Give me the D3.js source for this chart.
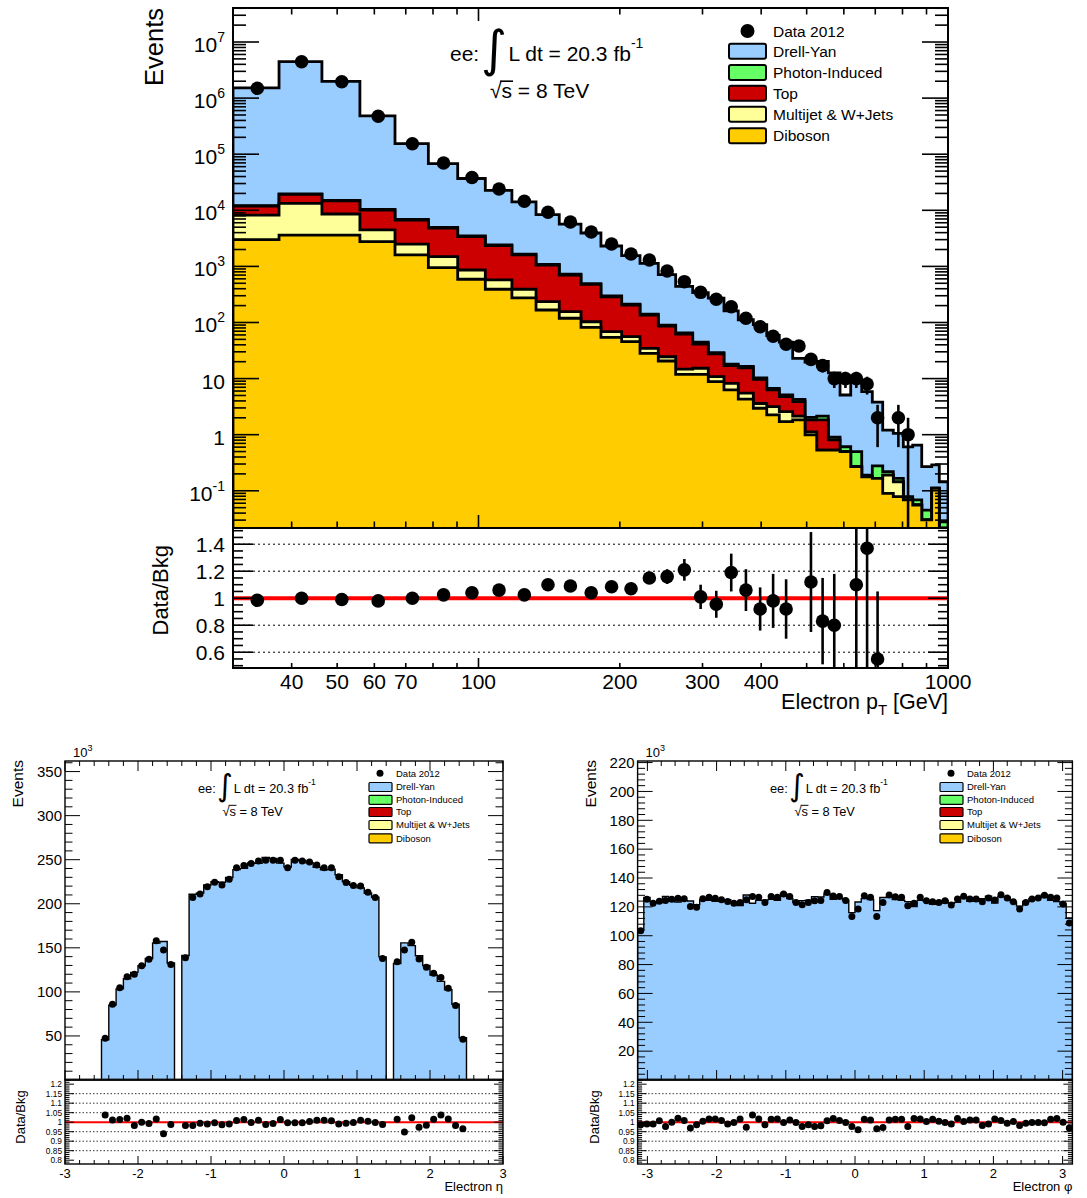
<!DOCTYPE html>
<html><head><meta charset="utf-8">
<script src="https://cdn.jsdelivr.net/npm/d3@7"></script>
<style>
body{margin:0;background:#fff}
text{font-family:"Liberation Sans",Arial,Helvetica,sans-serif;fill:#000}
</style></head>
<body><svg id="chart" width="1087" height="1198"></svg>
<script>
// ================= DATA : Electron pT (top) =================
const ptBinEdges = [30, 37.6, 46.4, 55.9, 66.4, 78.2, 90.3, 103.4, 117.8, 132.6, 148.6, 165.3, 182.3, 201.8, 220.8, 241.5, 263, 285.9, 308.6, 333.3, 357.5, 384.9, 411.1, 437.2, 466.9, 496, 525.3, 556, 588.9, 620.6, 655, 689.9, 726, 764.7, 803.2, 841.1, 879.1, 923.2, 958.2, 1000];
const ptDrellYan = [1506000, 4440000, 1965000, 473600, 147100, 63050, 33400, 20180, 12500, 7280, 4945, 3445, 2012, 1338, 989, 624, 376, 297.6, 242, 142.5, 95.5, 81.2, 51.9, 39.4, 18.7, 17.7, 18.05, 11.7, 4.49, 8.7, 5.65, 3.52, 0.99, 0.893, 0.53, 0.58, 0.224, 0.177, 0.117];
const ptPhotonInduced = [200, 300, 300, 300, 200, 150, 100, 80, 50, 31, 22, 15, 10, 7, 5, 3.3, 2.6, 3.0, 1.5, 1.0, 0.9, 0.6, 0.44, 0.35, 0.4, 0.21, 0.32, 0.09, 0.11, 0.23, 0.012, 0.11, 0.03, 0.022, 0.01, 0.013, 0.015, 0.003, 0.0065];
const ptTop = [3700, 6000, 6100, 5640, 4200, 3310, 2540, 1770, 1210, 824, 547, 377, 219, 149, 101, 62, 47.6, 26.1, 16.7, 8.8, 10.1, 6.1, 3.1, 2.18, 1.72, 0.71, 1.3, 0.28, 0, 0, 0, 0, 0, 0, 0, 0, 0, 0, 0];
const ptMultijet = [5200, 9700, 5000, 1700, 900, 540, 273, 182, 117, 68, 37, 21, 14.1, 10.3, 6.5, 3.9, 2.9, 3.4, 2.0, 1.9, 1.2, 0.64, 0.92, 0.86, 0.32, 0.13, 0, 0, 0, 0, 0, 0, 0.1, 0.066, 0, 0, 0, 0, 0];
const ptDiboson = [3000, 3600, 3600, 2760, 1600, 950, 590, 391, 274, 167, 119, 82, 54.5, 45.5, 28.2, 20.6, 11.9, 11.9, 8.8, 6.3, 4.3, 2.96, 2.25, 1.71, 1.83, 0.99, 0.53, 0.53, 0.5, 0.27, 0.178, 0.167, 0.09, 0.0785, 0.0686, 0.0558, 0.0302, 0.11, 0.0215];
const ptData = [1495000, 4460000, 1960000, 474000, 154000, 69700, 38400, 24000, 14500, 9210, 6180, 4100, 2510, 1660, 1300, 828, 534, 345, 259, 191, 119, 84, 57, 41, 38, 22, 17, 10, 10, 10, 8, 2, null, 2, 1, null, null, null, null];
const ptDataErr = [1223, 2112, 1400, 688, 392, 264, 196, 155, 120, 96, 79, 64, 50, 41, 36, 29, 23, 18.6, 16.1, 13.8, 10.9, 9.2, 7.5, 6.4, 6.2, 4.7, 4.1, 3.2, 3.2, 3.2, 2.8, 1.4, null, 1.4, 1.0, null, null, null, null];
const ptRatio = [0.985, 1.0, 0.99, 0.98, 1.0, 1.025, 1.04, 1.06, 1.025, 1.1, 1.09, 1.04, 1.085, 1.07, 1.15, 1.16, 1.21, 1.01, 0.955, 1.19, 1.06, 0.92, 0.98, 0.92, null, 1.12, 0.83, 0.80, null, 1.10, 1.37, 0.55, null, null, null, null, null, null, null];
const ptRatioErr = [0.004, 0.003, 0.004, 0.005, 0.006, 0.008, 0.009, 0.011, 0.013, 0.016, 0.018, 0.022, 0.028, 0.033, 0.045, 0.055, 0.08, 0.09, 0.1, 0.14, 0.155, 0.16, 0.2, 0.22, null, 0.37, 0.32, 0.38, null, 0.65, 0.9, 0.5, null, null, null, null, null, null, null];
const ptXTickLabels = [40, 50, 60, 70, 100, 200, 300, 400, 1000];
const ptYTickExponents = [-1, 0, 1, 2, 3, 4, 5, 6, 7];
const ptRatioTickLabels = [0.6, 0.8, 1, 1.2, 1.4];
const ptRatioGrid = [0.6, 0.8, 1.2, 1.4];

// ================= DATA : Electron eta (bottom left), units of 10^3 events =================
const etaBinning = {n: 50, min: -2.5, max: 2.5};
const etaDrellYan = [45.6, 85.0, 103.4, 114.9, 122.1, 129.7, 137.9, 155.5, 157.1, 132.8, 0, 141.2, 210.8, 212.1, 221.3, 225.0, 224.4, 229.8, 238.7, 240.1, 246.3, 245.9, 252.5, 251.3, 246.1, 241.6, 250.3, 249.1, 246.6, 241.5, 238.5, 239.2, 233.0, 225.1, 221.0, 218.0, 211.9, 207.4, 139.7, 0, 132.2, 155.6, 152.5, 141.0, 130.0, 119.2, 111.9, 102.4, 86.0, 48.0];
const etaData = [47.3, 86.0, 104.8, 117.3, 120.0, 129.7, 136.9, 158.1, 147.5, 131.2, null, 138.8, 207.2, 211.0, 219.3, 224.3, 221.3, 227.7, 240.9, 243.5, 245.8, 248.4, 249.5, 249.5, 249.5, 240.9, 249.5, 248.4, 247.3, 243.9, 240.9, 240.9, 230.7, 224.0, 220.6, 220.2, 213.0, 207.0, 138.0, null, 134.3, 147.5, 156.2, 137.3, 127.9, 121.1, 116.2, 104.1, 84.5, 46.3];
const etaRatio = [1.038, 1.012, 1.014, 1.021, 0.983, 1.0, 0.993, 1.017, 0.939, 0.988, null, 0.983, 0.983, 0.995, 0.991, 0.997, 0.986, 0.991, 1.009, 1.014, 0.998, 1.01, 0.988, 0.993, 1.014, 0.997, 0.997, 0.997, 1.003, 1.01, 1.01, 1.007, 0.99, 0.995, 0.998, 1.01, 1.005, 0.998, 0.988, null, 1.016, 0.948, 1.024, 0.974, 0.984, 1.016, 1.038, 1.017, 0.983, 0.965];
const etaYTickLabels = [50, 100, 150, 200, 250, 300, 350];
const etaXTickLabels = [-3, -2, -1, 0, 1, 2, 3];

// ================= DATA : Electron phi (bottom right), units of 10^3 events =================
const phiBinning = {n: 70, min: -Math.PI, max: Math.PI};
const phiDrellYan = [104.9, 126.5, 123.6, 123.0, 127.3, 125.3, 123.4, 124.5, 124.1, 121.5, 125.0, 124.6, 123.9, 123.8, 124.9, 122.7, 120.9, 128.2, 122.5, 124.6, 124.7, 125.2, 124.6, 129.3, 125.7, 123.2, 124.3, 124.7, 127.1, 126.8, 129.0, 125.2, 126.1, 124.6, 116.0, 123.4, 125.7, 125.1, 117.4, 126.5, 126.7, 125.0, 124.6, 123.6, 120.2, 124.5, 123.9, 121.7, 122.5, 124.5, 122.5, 123.1, 126.9, 123.9, 123.9, 125.7, 127.4, 122.6, 127.3, 126.7, 123.2, 120.5, 123.7, 125.7, 126.4, 128.4, 124.6, 123.7, 122.0, 112.3];
const phiData = [103.4, 125.2, 122.5, 123.9, 124.4, 125.3, 126.0, 125.6, 120.3, 119.8, 125.6, 126.7, 126.0, 124.9, 123.7, 122.5, 123.0, 124.9, 127.2, 126.7, 123.0, 127.2, 126.7, 129.0, 127.2, 123.0, 121.4, 123.0, 124.2, 124.4, 129.9, 127.6, 127.2, 124.4, 113.3, 118.5, 127.7, 126.6, 113.3, 123.0, 128.2, 127.0, 126.6, 120.8, 122.5, 126.6, 124.3, 123.6, 123.1, 124.3, 121.3, 125.4, 127.3, 125.4, 125.4, 123.6, 126.1, 124.7, 128.4, 126.1, 123.6, 118.5, 123.1, 125.4, 126.1, 128.0, 126.6, 126.1, 122.0, 108.8];
const phiRatio = [0.986, 0.99, 0.991, 1.007, 0.977, 1.0, 1.021, 1.009, 0.969, 0.986, 1.005, 1.017, 1.017, 1.009, 0.99, 0.998, 1.017, 0.974, 1.038, 1.017, 0.986, 1.016, 1.017, 0.998, 1.012, 0.998, 0.977, 0.986, 0.977, 0.981, 1.007, 1.019, 1.009, 0.998, 0.977, 0.96, 1.016, 1.012, 0.965, 0.972, 1.012, 1.016, 1.016, 0.977, 1.019, 1.017, 1.003, 1.016, 1.005, 0.998, 0.99, 1.019, 1.003, 1.012, 1.012, 0.983, 0.99, 1.017, 1.009, 0.995, 1.003, 0.983, 0.995, 0.998, 0.998, 0.997, 1.016, 1.019, 1.0, 0.969];
const phiYTickLabels = [20, 40, 60, 80, 100, 120, 140, 160, 180, 200, 220];
const phiXTickLabels = [-3, -2, -1, 0, 1, 2, 3];

const smallRatioTickLabels = [0.8, 0.85, 0.9, 0.95, 1, 1.05, 1.1, 1.15, 1.2];
const smallRatioGrid = [0.85, 0.9, 0.95, 1.05, 1.1, 1.15];

const legendLabels = ['Drell-Yan', 'Photon-Induced', 'Top', 'Multijet & W+Jets', 'Diboson'];
const legendKeys = ['dy', 'photon', 'top', 'multijet', 'diboson'];
const COLORS = {dy: '#99CCFF', photon: '#66FF66', top: '#CC0000', multijet: '#FFFF99', diboson: '#FFCC00'};

// ================= HELPERS =================
const svg = d3.select('#chart');
svg.append('rect').attr('width', 1087).attr('height', 1198).attr('fill', '#fff');
const defs = svg.append('defs');
let clipN = 0;
function addClip(x0, y0, x1, y1) {
  const id = 'clp' + (clipN++);
  defs.append('clipPath').attr('id', id).append('rect')
    .attr('x', x0).attr('y', y0).attr('width', x1 - x0).attr('height', y1 - y0);
  return 'url(#' + id + ')';
}
function stepPath(xs, ys, base) {
  let p = 'M' + xs[0] + ',' + base;
  for (let i = 0; i < ys.length; i++) p += 'L' + xs[i] + ',' + ys[i] + 'L' + xs[i + 1] + ',' + ys[i];
  p += 'L' + xs[xs.length - 1] + ',' + base + 'Z';
  return p;
}
function drawStack(g, x, y, edges, comps, lw) {
  const keys = ['diboson', 'multijet', 'top', 'photon', 'dy'];
  const n = edges.length - 1;
  const rows = d3.range(n).map(i => { const r = {}; keys.forEach(k => r[k] = comps[k] ? (comps[k][i] || 0) : 0); return r; });
  const stacked = d3.stack().keys(keys)(rows);
  const base = y.range()[0] + 10;
  const xs = edges.map(e => x(e));
  const pix = v => (v > 0 ? Math.min(y(v), base) : base);
  for (let li = keys.length - 1; li >= 0; li--) {
    if (!comps[keys[li]]) continue;
    const ys = stacked[li].map(d => pix(d[1]));
    g.append('path').attr('d', stepPath(xs, ys, base))
      .attr('fill', COLORS[keys[li]]).attr('stroke', '#000').attr('stroke-width', lw).attr('stroke-linejoin', 'miter');
  }
}
function drawPoints(g, x, y, centers, vals, errs, r, lw) {
  const base = y.range()[0] + 10;
  vals.forEach((v, i) => {
    if (v == null) return;
    const cx = x(centers[i]);
    if (errs && errs[i] != null) {
      const lo = v - errs[i], hi = v + errs[i];
      const ylo = lo > y.domain()[0] ? y(lo) : base;
      g.append('line').attr('x1', cx).attr('x2', cx).attr('y1', ylo).attr('y2', y(hi))
        .attr('stroke', '#000').attr('stroke-width', lw);
    }
    g.append('circle').attr('cx', cx).attr('cy', y(v)).attr('r', r).attr('fill', '#000');
  });
}
function ticksY(g, y, vals, x0, x1, len) {
  vals.forEach(v => {
    const yy = y(v);
    g.append('line').attr('x1', x0).attr('x2', x0 + len).attr('y1', yy).attr('y2', yy);
    g.append('line').attr('x1', x1).attr('x2', x1 - len).attr('y1', yy).attr('y2', yy);
  });
}
function ticksX(g, x, vals, yPos, len) {
  vals.forEach(v => { const xx = x(v); g.append('line').attr('x1', xx).attr('x2', xx).attr('y1', yPos).attr('y2', yPos + len); });
}
function legend(g, o) {
  g.append('circle').attr('cx', o.mx).attr('cy', o.my).attr('r', o.r).attr('fill', '#000');
  g.append('text').attr('x', o.tx).attr('y', o.my + o.fs * 0.36).attr('font-size', o.fs).text('Data 2012');
  legendKeys.forEach((k, i) => {
    const c = o.rows[i];
    g.append('rect').attr('x', o.bx0).attr('y', c - o.bh / 2).attr('width', o.bx1 - o.bx0).attr('height', o.bh)
      .attr('rx', o.rx).attr('fill', COLORS[k]).attr('stroke', '#000').attr('stroke-width', o.lw);
    g.append('text').attr('x', o.tx).attr('y', c + o.fs * 0.36).attr('font-size', o.fs).text(legendLabels[i]);
  });
}
function lumi(g, x, y, s) {
  const fs = 21 * s;
  g.append('text').attr('x', x).attr('y', y).attr('font-size', fs).text('ee:');
  g.append('text').attr('x', x + 31 * s).attr('y', y + 5 * s).attr('font-size', 50 * s)
    .style('font-family', '"DejaVu Sans"').text('\u222B');
  const t = g.append('text').attr('x', x + 58.5 * s).attr('y', y).attr('font-size', fs);
  t.append('tspan').text('L dt = 20.3 fb');
  t.append('tspan').attr('font-size', 14 * s).attr('dy', -13 * s).text('-1');
  const y2 = y + 37 * s, x2 = x + 40 * s;
  const r = g.append('text').attr('x', x2).attr('y', y2).attr('font-size', fs).text('\u221A');
  const rw = r.node().getComputedTextLength();
  const sx = g.append('text').attr('x', x2 + rw).attr('y', y2).attr('font-size', fs).text('s');
  const sw = sx.node().getComputedTextLength();
  g.append('line').attr('x1', x2 + rw - 1.5 * s).attr('x2', x2 + rw + sw + 1 * s)
    .attr('y1', y2 - fs * 0.8).attr('y2', y2 - fs * 0.8).attr('stroke', '#000').attr('stroke-width', 1.6 * s);
  g.append('text').attr('x', x2 + rw + sw).attr('y', y2).attr('font-size', fs).text('\u00A0= 8 TeV');
}

// ================= TOP PANEL : Electron pT =================
(function () {
  const X0 = 233, X1 = 948, YT = 8, YM = 528, YB = 668;
  const g = svg.append('g');
  const x = d3.scaleLog().domain([30, 1000]).range([X0, X1]);
  const y = d3.scaleLog().domain([0.0217, 4.04e7]).range([YM, YT]);
  const yr = d3.scaleLinear().domain([0.483, 1.52]).range([YB, YM]);
  const centers = d3.range(ptBinEdges.length - 1).map(i => (ptBinEdges[i] + ptBinEdges[i + 1]) / 2);

  const gm = g.append('g').attr('clip-path', addClip(X0, YT, X1, YM));
  drawStack(gm, x, y, ptBinEdges, {dy: ptDrellYan, photon: ptPhotonInduced, top: ptTop, multijet: ptMultijet, diboson: ptDiboson}, 2.8);
  drawPoints(gm, x, y, centers, ptData, ptDataErr, 6.8, 2.6);

  // ratio
  const gr = g.append('g').attr('clip-path', addClip(X0, YM, X1, YB));
  ptRatioGrid.forEach(v => gr.append('line').attr('x1', X0).attr('x2', X1).attr('y1', yr(v)).attr('y2', yr(v))
    .attr('stroke', '#000').attr('stroke-width', 1).attr('stroke-dasharray', '2,3'));
  gr.append('line').attr('x1', X0).attr('x2', X1).attr('y1', yr(1)).attr('y2', yr(1)).attr('stroke', '#FF0000').attr('stroke-width', 4);
  drawPoints(gr, x, yr, centers, ptRatio, ptRatioErr, 6.8, 2.6);

  // frames
  g.append('rect').attr('x', X0).attr('y', YT).attr('width', X1 - X0).attr('height', YM - YT).attr('fill', 'none').attr('stroke', '#000').attr('stroke-width', 2);
  g.append('rect').attr('x', X0).attr('y', YM).attr('width', X1 - X0).attr('height', YB - YM).attr('fill', 'none').attr('stroke', '#000').attr('stroke-width', 2);

  // ticks
  const gt = g.append('g').attr('stroke', '#000').attr('stroke-width', 1.6);
  const yMaj = [], yMin = [];
  for (let k = -2; k <= 7; k++) for (let m = 1; m <= 9; m++) {
    const v = m * Math.pow(10, k);
    if (v < y.domain()[0] || v > y.domain()[1]) continue;
    (m === 1 ? yMaj : yMin).push(v);
  }
  ticksY(gt, y, yMaj, X0, X1, 26);
  ticksY(gt, y, yMin, X0, X1, 13);
  const xMaj = [], xMin = [];
  for (let k = 1; k <= 3; k++) for (let m = 1; m <= 9; m++) {
    const v = m * Math.pow(10, k);
    if (v <= 30 || v >= 1000) continue;
    (m === 1 ? xMaj : xMin).push(v);
  }
  ticksX(gt, x, xMaj, YT, 13); ticksX(gt, x, xMin, YT, 6.5);
  ticksX(gt, x, xMaj, YM, -13); ticksX(gt, x, xMin, YM, -6.5);
  ticksX(gt, x, xMaj, YB, -10); ticksX(gt, x, xMin, YB, -5);
  const rMaj = ptRatioTickLabels, rMin = [];
  for (let v = 0.5; v <= 1.5001; v += 0.05) { const vv = Math.round(v * 100) / 100; if (!rMaj.some(a => Math.abs(a - vv) < 1e-6)) rMin.push(vv); }
  ticksY(gt, yr, rMaj, X0, X1, 20);
  ticksY(gt, yr, rMin, X0, X1, 10);

  // labels
  ptYTickExponents.forEach(k => {
    const t = g.append('text').attr('x', 225).attr('y', y(Math.pow(10, k)) + 10).attr('font-size', 21).attr('text-anchor', 'end');
    if (k === 0) t.text('1');
    else if (k === 1) t.text('10');
    else { t.append('tspan').text('10'); t.append('tspan').attr('font-size', 14).attr('dy', -10).text(String(k)); }
  });
  ptRatioTickLabels.forEach(v => g.append('text').attr('x', 225).attr('y', yr(v) + 7.5).attr('font-size', 21).attr('text-anchor', 'end').text(String(v)));
  ptXTickLabels.forEach(v => g.append('text').attr('x', x(v)).attr('y', 689).attr('font-size', 21).attr('text-anchor', 'middle').text(String(v)));
  const xl = g.append('text').attr('x', X1).attr('y', 709).attr('font-size', 21.5).attr('text-anchor', 'end');
  xl.append('tspan').text('Electron p');
  xl.append('tspan').attr('font-size', 15).attr('dy', 6).text('T');
  xl.append('tspan').attr('dy', -6).text(' [GeV]');
  g.append('text').attr('transform', 'translate(163,8) rotate(-90)').attr('text-anchor', 'end').attr('font-size', 25.5).text('Events');
  g.append('text').attr('transform', 'translate(168,545) rotate(-90)').attr('text-anchor', 'end').attr('font-size', 22).text('Data/Bkg');

  lumi(g, 450, 61, 1);
  legend(g, {mx: 747.5, my: 31, r: 7, tx: 773, fs: 15.5, bx0: 729, bx1: 766, bh: 15, rx: 2, lw: 2,
    rows: [51.3, 72.5, 93.3, 114.2, 135.8]});
})();

// ================= BOTTOM PANELS =================
function bottomPanel(o) {
  const YT = 761, YM = 1080, YB = 1164;
  const g = svg.append('g');
  const x = d3.scaleLinear().domain(o.xDomain).range([o.x0, o.x1]);
  const y = d3.scaleLinear().domain([0, o.yMax]).range([YM, YT]);
  const yr = d3.scaleLinear().domain([0.78, 1.222]).range([YB, YM]);
  const edges = d3.range(o.bin.n + 1).map(i => o.bin.min + i * (o.bin.max - o.bin.min) / o.bin.n);
  const centers = d3.range(o.bin.n).map(i => (edges[i] + edges[i + 1]) / 2);

  const gm = g.append('g').attr('clip-path', addClip(o.x0, YT, o.x1, YM));
  drawStack(gm, x, y, edges, {dy: o.dy}, 1.4);
  gm.append('line').attr('x1', o.x0).attr('x2', o.x1).attr('y1', YM - 1).attr('y2', YM - 1).attr('stroke', '#333').attr('stroke-width', 1);
  drawPoints(gm, x, y, centers, o.data, null, 3.5, 1);

  const gr = g.append('g').attr('clip-path', addClip(o.x0, YM, o.x1, YB));
  smallRatioGrid.forEach(v => gr.append('line').attr('x1', o.x0).attr('x2', o.x1).attr('y1', yr(v)).attr('y2', yr(v))
    .attr('stroke', '#000').attr('stroke-width', 0.8).attr('stroke-dasharray', '1.5,2'));
  gr.append('line').attr('x1', o.x0).attr('x2', o.x1).attr('y1', yr(1)).attr('y2', yr(1)).attr('stroke', '#FF0000').attr('stroke-width', 2);
  drawPoints(gr, x, yr, centers, o.ratio, null, 3.5, 1);

  g.append('rect').attr('x', o.x0).attr('y', YT).attr('width', o.x1 - o.x0).attr('height', YM - YT).attr('fill', 'none').attr('stroke', '#000').attr('stroke-width', 1.4);
  g.append('rect').attr('x', o.x0).attr('y', YM).attr('width', o.x1 - o.x0).attr('height', YB - YM).attr('fill', 'none').attr('stroke', '#000').attr('stroke-width', 1.4);

  const gt = g.append('g').attr('stroke', '#000').attr('stroke-width', 1);
  const yMaj = o.yTicks, yMin = [];
  for (let v = o.yMinor; v < o.yMax; v += o.yMinor) { const vv = Math.round(v * 1000) / 1000; if (!yMaj.includes(vv)) yMin.push(vv); }
  ticksY(gt, y, yMaj, o.x0, o.x1, 15);
  ticksY(gt, y, yMin, o.x0, o.x1, 7.5);
  const xMaj = o.xTicks, xMin = [];
  for (let v = -3.2; v <= 3.2001; v += 0.2) { const vv = Math.round(v * 10) / 10; if (vv > o.xDomain[0] && vv < o.xDomain[1] && Math.abs(vv - Math.round(vv)) > 1e-6) xMin.push(vv); }
  ticksX(gt, x, xMaj, YT, 10); ticksX(gt, x, xMin, YT, 5);
  ticksX(gt, x, xMaj, YM, -10); ticksX(gt, x, xMin, YM, -5);
  ticksX(gt, x, xMaj, YB, -8); ticksX(gt, x, xMin, YB, -4);
  const rMin = [];
  for (let v = 0.79; v < 1.221; v += 0.01) { const vv = Math.round(v * 100) / 100; if (!smallRatioTickLabels.some(a => Math.abs(a - vv) < 1e-6)) rMin.push(vv); }
  ticksY(gt, yr, smallRatioTickLabels, o.x0, o.x1, 9);
  ticksY(gt, yr, rMin, o.x0, o.x1, 4.5);

  o.yTicks.forEach(v => g.append('text').attr('x', o.x0 - 3).attr('y', y(v) + 5.3).attr('font-size', 15).attr('text-anchor', 'end').text(String(v)));
  smallRatioTickLabels.forEach(v => g.append('text').attr('x', o.x0 - 3).attr('y', yr(v) + 2.9).attr('font-size', 8.3).attr('text-anchor', 'end').text(String(v)));
  o.xTicks.forEach(v => g.append('text').attr('x', x(v)).attr('y', 1178).attr('font-size', 13).attr('text-anchor', 'middle').text(v < 0 ? '-' + Math.abs(v) : String(v)));
  g.append('text').attr('x', o.x1).attr('y', 1191).attr('font-size', 13).attr('text-anchor', 'end').text(o.xLabel);
  const e = g.append('text').attr('x', o.x0 + 8).attr('y', 757).attr('font-size', 13);
  e.append('tspan').text('10'); e.append('tspan').attr('font-size', 9).attr('dy', -6).text('3');
  g.append('text').attr('transform', 'translate(' + o.evX + ',760) rotate(-90)').attr('text-anchor', 'end').attr('font-size', 15.5).text('Events');
  g.append('text').attr('transform', 'translate(' + o.ratX + ',1117) rotate(-90)').attr('text-anchor', 'middle').attr('font-size', 13).text('Data/Bkg');

  lumi(g, o.lumiX, 793, 0.61);
  legend(g, {mx: o.legX + 11, my: 773.3, r: 3.5, tx: o.legX + 27, fs: 9.5, bx0: o.legX, bx1: o.legX + 23, bh: 9, rx: 1, lw: 1.2,
    rows: [787, 799.8, 812, 825, 838.3]});
}

bottomPanel({x0: 65, x1: 503, xDomain: [-3, 3], yMax: 362, bin: etaBinning, dy: etaDrellYan, data: etaData, ratio: etaRatio,
  yTicks: etaYTickLabels, yMinor: 10, xTicks: etaXTickLabels, xLabel: 'Electron \u03B7', evX: 23, ratX: 25, lumiX: 198, legX: 369});
bottomPanel({x0: 637.6, x1: 1072.4, xDomain: [-Math.PI, Math.PI], yMax: 221.1, bin: phiBinning, dy: phiDrellYan, data: phiData, ratio: phiRatio,
  yTicks: phiYTickLabels, yMinor: 4, xTicks: phiXTickLabels, xLabel: 'Electron \u03C6', evX: 596, ratX: 599, lumiX: 770, legX: 940});
</script></body></html>
